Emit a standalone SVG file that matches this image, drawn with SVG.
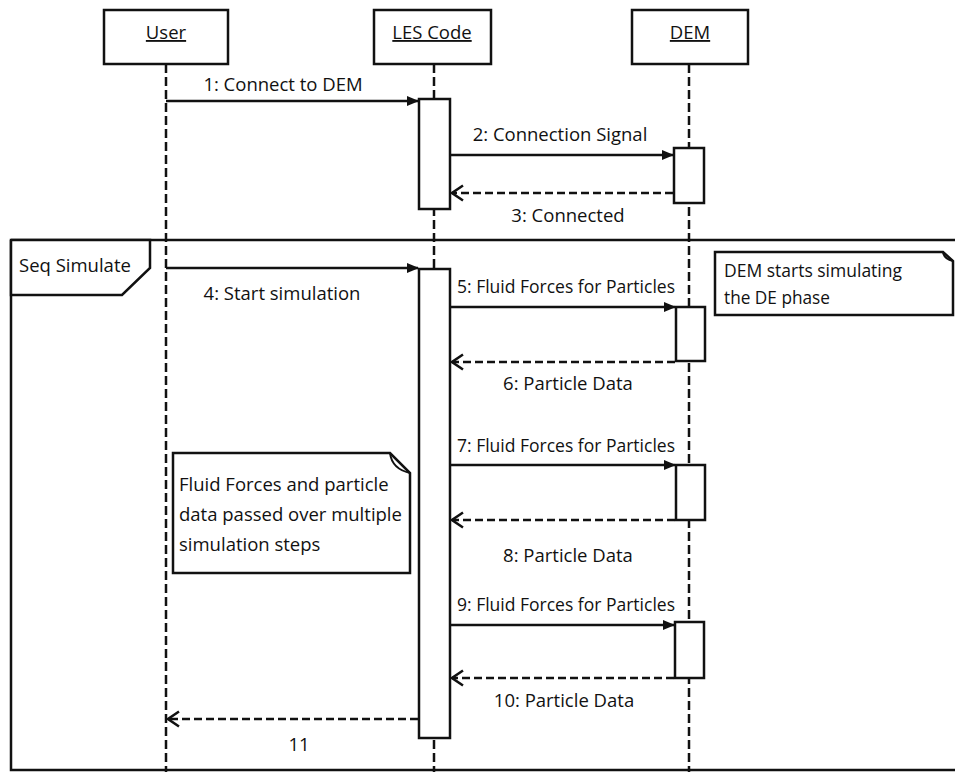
<svg xmlns="http://www.w3.org/2000/svg" width="955" height="772" viewBox="0 0 955 772">
<style>
text{font-family:"Open Sans","Liberation Sans",sans-serif;font-size:18.5px;fill:#111}
.box{fill:#fff;stroke:#111;stroke-width:2.5}
.life{stroke:#111;stroke-width:2.5;stroke-dasharray:9 4;fill:none}
.msg{stroke:#111;stroke-width:2.5;fill:none}
.ret{stroke:#111;stroke-width:2.5;fill:none;stroke-dasharray:8 4}
.u{text-decoration:underline}
</style>
<defs>
<marker id="solid" markerWidth="12" markerHeight="10" refX="11" refY="5" orient="auto" markerUnits="userSpaceOnUse">
<path d="M0,0 L12,5 L0,10 Z" fill="#111"/>
</marker>
<marker id="open" markerWidth="14" markerHeight="18" refX="12" refY="9" orient="auto" markerUnits="userSpaceOnUse">
<path d="M1,1.5 L12,9 L1,16.5" fill="none" stroke="#111" stroke-width="2.5"/>
</marker>
</defs>
<rect width="955" height="772" fill="#fff"/>

<g id="frame">
<path d="M11,240 H956 M11,240 V770 H956" fill="none" stroke="#111" stroke-width="2.5"/>
<path d="M11,240 H150 V268 L122,295 H11 Z" fill="#fff" stroke="#111" stroke-width="2.5"/>
<text x="19" y="272">Seq Simulate</text>
</g>

<g id="user">
<line class="life" x1="166" y1="64" x2="166" y2="772"/>
<rect class="box" x="104" y="10" width="124" height="54"/>
<text class="u" x="166" y="39" text-anchor="middle">User</text>
</g>

<g id="les">
<line class="life" x1="434" y1="64" x2="434" y2="772"/>
<rect class="box" x="374" y="10" width="117" height="54"/>
<text class="u" x="432" y="39" text-anchor="middle">LES Code</text>
<rect class="box" x="419" y="99" width="31" height="110"/>
<rect class="box" x="419" y="269" width="31" height="469"/>
</g>

<g id="dem">
<line class="life" x1="689" y1="64" x2="689" y2="772"/>
<rect class="box" x="632" y="10" width="116" height="54"/>
<text class="u" x="690" y="39" text-anchor="middle">DEM</text>
<rect class="box" x="674" y="148" width="30" height="55"/>
<rect class="box" x="676" y="307" width="29" height="54"/>
<rect class="box" x="676" y="465" width="29" height="55"/>
<rect class="box" x="675" y="622" width="29" height="56"/>
</g>

<g id="note1">
<path d="M715,252 H943 L953,261 V315 H715 Z" fill="#fff" stroke="#111" stroke-width="2.5"/>
<path d="M943,252 Q944,259 953,261" fill="none" stroke="#111" stroke-width="2"/>
<text x="724" y="277" textLength="178" lengthAdjust="spacingAndGlyphs">DEM starts simulating</text>
<text x="724" y="304" textLength="106" lengthAdjust="spacingAndGlyphs">the DE phase</text>
</g>

<g id="note2">
<path d="M173,453 H390 L410,473 V573 H173 Z" fill="#fff" stroke="#111" stroke-width="2.5"/>
<path d="M390,453 Q392,469 410,473" fill="none" stroke="#111" stroke-width="2"/>
<text x="179" y="491">Fluid Forces and particle</text>
<text x="179" y="521">data passed over multiple</text>
<text x="179" y="551">simulation steps</text>
</g>

<g id="connectors">
<line class="msg" x1="166" y1="101" x2="418" y2="101" marker-end="url(#solid)"/>
<text x="283" y="91" text-anchor="middle">1: Connect to DEM</text>
<line class="msg" x1="451" y1="155" x2="673" y2="155" marker-end="url(#solid)"/>
<text x="560" y="141" text-anchor="middle">2: Connection Signal</text>
<line class="ret" x1="673" y1="193" x2="452" y2="193" marker-end="url(#open)"/>
<text x="568" y="222" text-anchor="middle">3: Connected</text>

<line class="msg" x1="166" y1="268" x2="418" y2="268" marker-end="url(#solid)"/>
<text x="282" y="300" text-anchor="middle">4: Start simulation</text>
<line class="msg" x1="451" y1="307" x2="675" y2="307" marker-end="url(#solid)"/>
<text x="457" y="293" textLength="218" lengthAdjust="spacingAndGlyphs">5: Fluid Forces for Particles</text>
<line class="ret" x1="675" y1="362" x2="452" y2="362" marker-end="url(#open)"/>
<text x="568" y="390" text-anchor="middle">6: Particle Data</text>

<line class="msg" x1="451" y1="465" x2="675" y2="465" marker-end="url(#solid)"/>
<text x="457" y="452" textLength="218" lengthAdjust="spacingAndGlyphs">7: Fluid Forces for Particles</text>
<line class="ret" x1="675" y1="520" x2="452" y2="520" marker-end="url(#open)"/>
<text x="568" y="562" text-anchor="middle">8: Particle Data</text>

<line class="msg" x1="451" y1="625" x2="674" y2="625" marker-end="url(#solid)"/>
<text x="457" y="611" textLength="218" lengthAdjust="spacingAndGlyphs">9: Fluid Forces for Particles</text>
<line class="ret" x1="674" y1="678" x2="452" y2="678" marker-end="url(#open)"/>
<text x="564" y="707" text-anchor="middle">10: Particle Data</text>

<line class="ret" x1="418" y1="719" x2="168" y2="719" marker-end="url(#open)"/>
<text x="299" y="751" text-anchor="middle">11</text>
</g>
</svg>
